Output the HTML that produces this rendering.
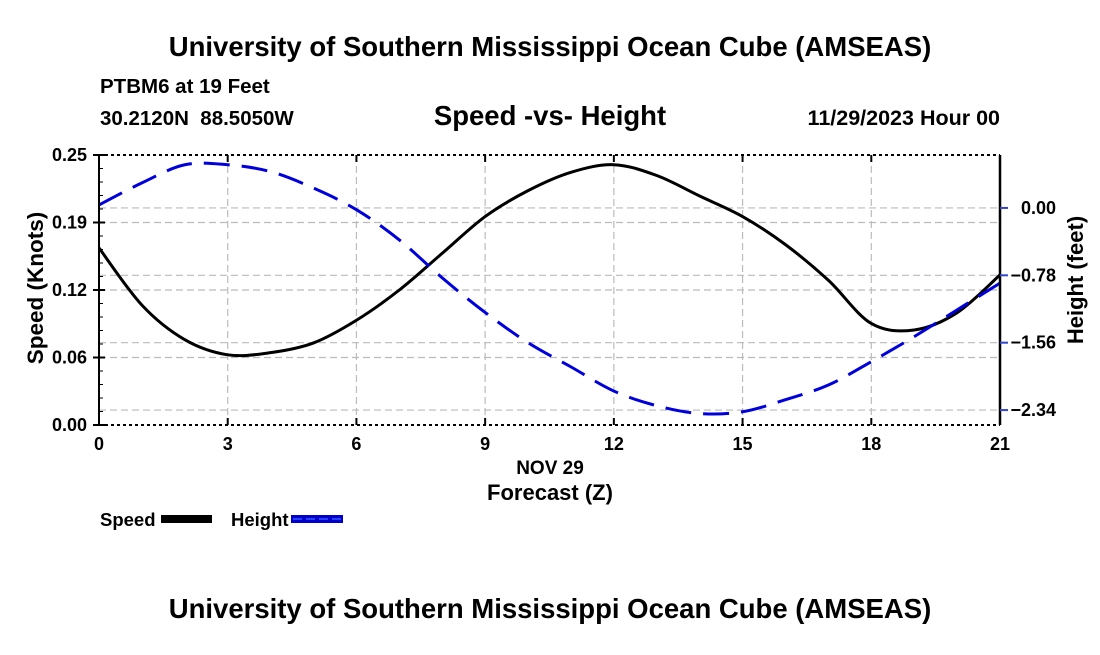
<!DOCTYPE html>
<html><head><meta charset="utf-8">
<style>
html,body{margin:0;padding:0;background:#fff;}
body{width:1100px;height:650px;overflow:hidden;font-family:"Liberation Sans",sans-serif;}
svg text{font-family:"Liberation Sans",sans-serif;font-weight:bold;}
</style></head>
<body>
<svg id="c" width="1100" height="650" xmlns="http://www.w3.org/2000/svg">
<text x="550" y="56" text-anchor="middle" font-size="27.5">University of Southern Mississippi Ocean Cube (AMSEAS)</text>
<text x="100" y="93" font-size="20.5">PTBM6 at 19 Feet</text>
<text x="100" y="125" font-size="20.5" xml:space="preserve">30.2120N  88.5050W</text>
<text x="550" y="125" text-anchor="middle" font-size="27.5">Speed -vs- Height</text>
<text x="1000" y="125" text-anchor="end" font-size="21.5">11/29/2023 Hour 00</text>
<text x="550" y="618" text-anchor="middle" font-size="27.5">University of Southern Mississippi Ocean Cube (AMSEAS)</text>
<g id="grid"></g><g id="series"></g><g id="axes"></g>
<text x="550" y="474" text-anchor="middle" font-size="19">NOV 29</text>
<text x="550" y="500" text-anchor="middle" font-size="22">Forecast (Z)</text>
<text transform="translate(43,288) rotate(-90)" text-anchor="middle" font-size="22.5">Speed (Knots)</text>
<text transform="translate(1083,280) rotate(-90)" text-anchor="middle" font-size="22">Height (feet)</text>
<g>
<text x="100" y="526" font-size="18.5">Speed</text>
<rect x="161" y="515" width="51" height="8" fill="#000"/>
<text x="231" y="526" font-size="18.5">Height</text>
<rect x="291" y="515" width="52" height="8" fill="#0000cc"/>
<line x1="293" y1="519" x2="343" y2="519" stroke="#3355ff" stroke-width="1.5" stroke-dasharray="9,4"/>
</g>
</svg>
<script>
const hours=[0,1,2,3,4,5,6,7,8,9,10,11,12,13,14,15,16,17,18,19,20,21];
const speed=[0.164,0.111,0.079,0.065,0.067,0.076,0.097,0.125,0.159,0.193,0.217,0.234,0.241,0.231,0.212,0.193,0.167,0.134,0.094,0.088,0.104,0.139];
const height=[0.035,0.29,0.50,0.50,0.42,0.23,-0.02,-0.37,-0.81,-1.21,-1.56,-1.84,-2.12,-2.29,-2.38,-2.36,-2.22,-2.05,-1.78,-1.49,-1.18,-0.87];
const xTicks=[0,3,6,9,12,15,18,21];
const yTicks=[0,0.0625,0.125,0.1875,0.25];
const yTickLabels=["0.00","0.06","0.12","0.19","0.25"];
const y2Ticks=[0,-0.78,-1.56,-2.34];
const y2TickLabels=["0.00","\u22120.78","\u22121.56","\u22122.34"];
const X0=99,X1=1000,Y0=425,Y1=155;
const xMin=0,xMax=21,yMin=0,yMax=0.25,y2Min=-2.513,y2Max=0.613;
const sx=v=>X0+(v-xMin)/(xMax-xMin)*(X1-X0);
const sy=v=>Y0-(v-yMin)/(yMax-yMin)*(Y0-Y1);
const sy2=v=>Y0-(v-y2Min)/(y2Max-y2Min)*(Y0-Y1);
const NS="http://www.w3.org/2000/svg";
function mk(tag,attrs,parent){const e=document.createElementNS(NS,tag);for(const k in attrs)e.setAttribute(k,attrs[k]);parent.appendChild(e);return e;}
const grid=document.getElementById('grid'),axes=document.getElementById('axes'),ser=document.getElementById('series');
xTicks.forEach(t=>{if(t>xMin&&t<xMax){const l=mk('line',{x1:sx(t),x2:sx(t),y1:Y1,y2:Y0,stroke:'#bbb','stroke-width':1.2,'stroke-dasharray':'7,4'},grid);

}});
yTicks.forEach(t=>{if(t>yMin&&t<yMax){const l=mk('line',{x1:X0,x2:X1,y1:sy(t),y2:sy(t),stroke:'#bbb','stroke-width':1.2,'stroke-dasharray':'7,4'},grid);

}});
y2Ticks.forEach(t=>{const l=mk('line',{x1:X0,x2:X1,y1:sy2(t),y2:sy2(t),stroke:'#bbb','stroke-width':1.2,'stroke-dasharray':'7,4'},grid);

});
const fl=mk('line',{x1:X0,x2:X0,y1:Y1,y2:Y0,stroke:'#000','stroke-width':2},axes);


const fr=mk('line',{x1:X1,x2:X1,y1:Y1,y2:Y0,stroke:'#000','stroke-width':2.5},axes);


[Y1,Y0].forEach(y=>{const b=mk('line',{x1:X0,x2:X1,y1:y,y2:y,stroke:'#000','stroke-width':2,'stroke-dasharray':'3,3'},axes);

});
xTicks.forEach(t=>{mk('line',{x1:sx(t),x2:sx(t),y1:Y0,y2:Y0-7,stroke:'#000','stroke-width':2},axes);
mk('line',{x1:sx(t),x2:sx(t),y1:Y1,y2:Y1+7,stroke:'#000','stroke-width':2},axes);
const tx=mk('text',{x:sx(t),y:Y0+25,'text-anchor':'middle','font-size':18},axes);tx.textContent=t;

});
yTicks.forEach((t,i)=>{mk('line',{x1:X0-6,x2:X0+6,y1:sy(t),y2:sy(t),stroke:'#000','stroke-width':2},axes);
const tx=mk('text',{x:X0-12,y:sy(t)+6,'text-anchor':'end','font-size':18},axes);tx.textContent=yTickLabels[i];

});
for(let i=1;i<20;i++){const v=yMin+(yMax-yMin)*i/20;mk('line',{x1:X0,x2:X0+4,y1:sy(v),y2:sy(v),stroke:'#000','stroke-width':1},axes);}
y2Ticks.forEach((t,i)=>{mk('line',{x1:X1,x2:X1+8,y1:sy2(t),y2:sy2(t),stroke:'#3344cc','stroke-width':2},axes);
const tx=mk('text',{x:1056,y:sy2(t)+6,'text-anchor':'end','font-size':18},axes);tx.textContent=y2TickLabels[i];

});
function smooth(xs,ys,fx,fy){let d='M'+fx(xs[0])+','+fy(ys[0]);
for(let i=0;i<xs.length-1;i++){const p0=i>0?i-1:i,p3=i+2<xs.length?i+2:i+1;
const x0=fx(xs[p0]),y0=fy(ys[p0]),x1=fx(xs[i]),y1=fy(ys[i]),x2=fx(xs[i+1]),y2=fy(ys[i+1]),x3=fx(xs[p3]),y3=fy(ys[p3]);
d+='C'+(x1+(x2-x0)/6)+','+(y1+(y2-y0)/6)+' '+(x2-(x3-x1)/6)+','+(y2-(y3-y1)/6)+' '+x2+','+y2;}return d;}
const sp=mk('path',{d:smooth(hours,speed,sx,sy),fill:'none',stroke:'#000','stroke-width':3,'stroke-linejoin':'round'},ser);


const hp=mk('path',{d:smooth(hours,height,sx,sy2),fill:'none',stroke:'#0000dd','stroke-width':3,'stroke-dasharray':'26,12'},ser);


</script>
</body></html>
